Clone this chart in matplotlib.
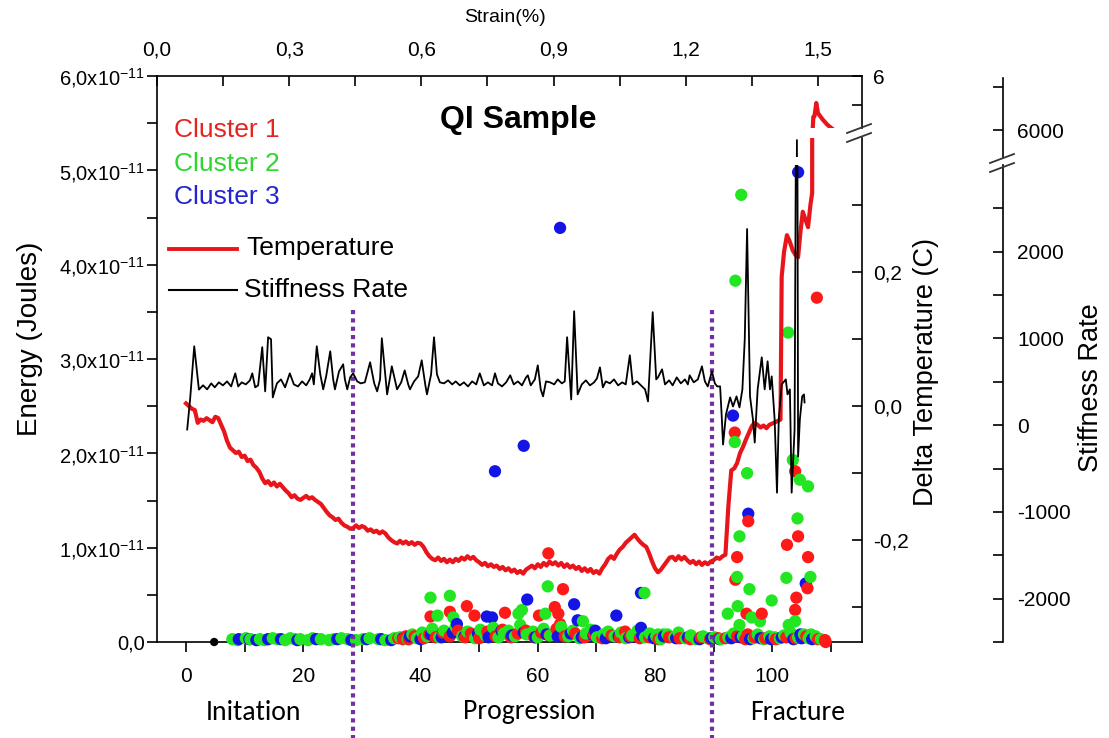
import numpy as np
import matplotlib
matplotlib.use("Agg")
import matplotlib.pyplot as plt
from matplotlib.ticker import FixedLocator, FixedFormatter, MultipleLocator
import matplotlib.transforms as mtrans
from matplotlib.lines import Line2D
from matplotlib import font_manager as fm

# ---------------- data ----------------
# Cluster energies (units of 1e-11 J), (index, energy)
cluster1_pts = [(36.2, 0.04), (37.0, 0.03), (37.5, 0.06), (38.0, 0.03), (39.0, 0.06), (40.6, 0.04), (41.5, 0.08),
                (42.6, 0.05), (43.8, 0.10), (45.0, 0.06), (46.4, 0.12), (47.6, 0.05), (48.6, 0.09), (50.0, 0.04),
                (51.4, 0.11), (52.8, 0.06), (54.0, 0.13), (55.4, 0.05), (56.6, 0.09), (58.0, 0.12), (59.4, 0.05),
                (60.6, 0.10), (62.0, 0.07), (63.2, 0.14), (64.6, 0.06), (66.4, 0.09), (68.0, 0.05), (69.6, 0.08),
                (71.0, 0.04), (72.6, 0.07), (74.0, 0.05), (75.8, 0.06), (77.4, 0.04), (79.0, 0.05), (80.6, 0.03),
                (82.4, 0.05), (84.2, 0.04), (86.0, 0.03), (87.8, 0.05), (89.4, 0.03), (90.8, 0.04),
                (92.0, 0.04), (94.0, 0.06), (95.4, 0.03), (97.0, 0.05), (98.8, 0.04), (100.6, 0.03), (102.4, 0.05),
                (104.0, 0.04), (105.8, 0.06), (107.8, 0.03), (109.0, 0.02),
                (41.7, 0.27), (45.0, 0.32), (47.9, 0.38), (49.2, 0.28), (54.4, 0.31), (60.2, 0.28), (61.8, 0.94),
                (62.9, 0.37), (63.5, 0.30), (63.8, 0.19), (64.3, 0.56), (74.9, 0.11),
                (93.6, 2.22), (95.9, 1.28), (94.0, 0.90), (93.7, 0.66), (103.9, 1.81), (104.4, 1.12), (102.5, 1.03),
                (106.1, 0.90), (106.0, 0.57), (104.1, 0.47), (103.9, 0.34), (95.6, 0.30), (98.2, 0.30), (95.8, 0.08),
                (109.1, 0.00), (107.6, 3.65)]

cluster2_pts = [(7.9, 0.03), (8.8, 0.02), (10.2, 0.04), (11.0, 0.03), (12.6, 0.03), (13.4, 0.02), (14.8, 0.04),
                (15.6, 0.03), (16.9, 0.02), (17.8, 0.04), (18.6, 0.03), (19.5, 0.03), (20.8, 0.02), (21.6, 0.04),
                (23.0, 0.03), (24.4, 0.02), (25.2, 0.03), (26.5, 0.04), (27.6, 0.03), (29.0, 0.02), (30.2, 0.03),
                (31.3, 0.04), (32.8, 0.03), (34.0, 0.02), (35.5, 0.04),
                (36.5, 0.05), (37.8, 0.03), (38.6, 0.08), (39.4, 0.04), (40.3, 0.10), (41.1, 0.06), (42.0, 0.14),
                (43.2, 0.05), (44.0, 0.12), (44.9, 0.08), (46.0, 0.16), (47.1, 0.06), (48.0, 0.11), (49.3, 0.04),
                (50.2, 0.13), (51.1, 0.07), (52.4, 0.15), (53.3, 0.05), (54.2, 0.09), (55.0, 0.12), (56.1, 0.06),
                (57.0, 0.18), (58.1, 0.08), (59.2, 0.11), (60.0, 0.05), (61.0, 0.14), (62.1, 0.07), (63.0, 0.10),
                (64.0, 0.16), (65.2, 0.06), (66.0, 0.12), (67.1, 0.04), (68.2, 0.09), (69.0, 0.13), (70.1, 0.05),
                (71.2, 0.08), (72.0, 0.11), (73.1, 0.06), (74.2, 0.10), (75.0, 0.04), (76.1, 0.07), (77.0, 0.12),
                (78.3, 0.05), (79.1, 0.09), (80.2, 0.06), (81.0, 0.03), (82.1, 0.08), (83.3, 0.05), (84.0, 0.10),
                (85.2, 0.04), (86.1, 0.07), (87.0, 0.03), (88.2, 0.06), (89.0, 0.04), (90.1, 0.05), (91.2, 0.03),
                (92.5, 0.05), (93.4, 0.09), (95.0, 0.06), (96.8, 0.04), (97.5, 0.08), (98.6, 0.03), (99.5, 0.06),
                (100.4, 0.05), (101.3, 0.04), (102.0, 0.07), (103.1, 0.10), (104.4, 0.05), (105.4, 0.08),
                (106.2, 0.04), (107.4, 0.06), (108.3, 0.03),
                (41.7, 0.47), (45.0, 0.49), (42.9, 0.28), (45.6, 0.26), (56.7, 0.30), (57.3, 0.34), (61.3, 0.30),
                (61.7, 0.59), (67.7, 0.22), (78.2, 0.52), (80.5, 0.08), (81.4, 0.08),
                (94.7, 4.74), (93.7, 3.83), (102.7, 3.28), (93.6, 2.12), (95.7, 1.79), (94.4, 1.12), (94.0, 0.69),
                (96.1, 0.56), (99.9, 0.44), (92.4, 0.30), (94.1, 0.38), (97.9, 0.22), (96.5, 0.26), (94.4, 0.18),
                (103.5, 1.93), (104.7, 1.72), (106.1, 1.65), (104.3, 1.31), (102.4, 0.68), (106.5, 0.69),
                (102.8, 0.18), (103.9, 0.22), (106.6, 0.08)]

cluster3_pts = [(9.0, 0.03), (10.8, 0.03), (12.0, 0.02), (14.0, 0.03), (16.2, 0.03), (19.0, 0.02), (22.2, 0.03),
                (25.8, 0.03), (28.2, 0.02), (30.8, 0.03), (33.3, 0.03), (35.0, 0.02),
                (37.0, 0.04), (38.2, 0.06), (40.0, 0.03), (41.8, 0.08), (43.6, 0.05), (45.5, 0.10), (47.5, 0.06),
                (49.8, 0.09), (51.6, 0.05), (53.8, 0.12), (55.6, 0.07), (57.6, 0.10), (59.6, 0.05), (61.5, 0.08),
                (63.4, 0.06), (65.6, 0.09), (67.5, 0.05), (69.5, 0.07), (71.6, 0.04), (73.8, 0.06), (75.6, 0.05),
                (77.8, 0.07), (79.8, 0.04), (81.5, 0.06), (83.6, 0.04), (85.6, 0.05), (87.6, 0.03), (89.6, 0.04),
                (91.0, 0.03), (93.0, 0.04), (94.6, 0.05), (96.2, 0.03), (98.0, 0.04), (99.8, 0.03), (101.6, 0.05),
                (103.6, 0.03), (105.0, 0.04), (106.8, 0.03),
                (63.8, 4.39), (57.6, 2.08), (52.7, 1.81), (46.2, 0.19), (51.3, 0.27), (52.2, 0.26), (58.2, 0.45),
                (66.2, 0.40), (66.8, 0.23), (73.4, 0.28), (77.6, 0.52), (69.8, 0.12), (77.6, 0.15),
                (93.3, 2.40), (95.9, 1.36), (104.4, 4.98), (105.7, 0.62), (104.8, 0.08)]

other_pts = [(4.8, 0.0)]

# Delta temperature (C), regular samples every 0.5 from 0 to 101
temp_regular = [
    0.004, 0.000, -0.004, -0.006, -0.025, -0.020, -0.022, -0.018, -0.021, -0.024,
    -0.016, -0.018, -0.028, -0.038, -0.052, -0.062, -0.066, -0.070, -0.068, -0.076,
    -0.074, -0.082, -0.080, -0.088, -0.092, -0.098, -0.108, -0.115, -0.112, -0.118,
    -0.114, -0.120, -0.116, -0.121, -0.126, -0.130, -0.136, -0.133, -0.138, -0.140,
    -0.137, -0.134, -0.138, -0.136, -0.140, -0.143, -0.146, -0.152, -0.158, -0.163,
    -0.166, -0.170, -0.168, -0.174, -0.178, -0.180, -0.183, -0.182, -0.178, -0.182,
    -0.179, -0.181, -0.186, -0.184, -0.188, -0.186, -0.190, -0.187, -0.190, -0.196,
    -0.200, -0.203, -0.205, -0.201, -0.205, -0.202, -0.206, -0.203, -0.207, -0.204,
    -0.205, -0.210, -0.218, -0.224, -0.228, -0.230, -0.226, -0.231, -0.228, -0.233,
    -0.229, -0.233, -0.228, -0.231, -0.226, -0.229, -0.224, -0.228, -0.225, -0.230,
    -0.233, -0.237, -0.234, -0.239, -0.236, -0.240, -0.238, -0.243, -0.240, -0.245,
    -0.242, -0.247, -0.244, -0.249, -0.246, -0.250, -0.244, -0.241, -0.238, -0.242,
    -0.236, -0.240, -0.234, -0.238, -0.232, -0.236, -0.233, -0.238, -0.234, -0.240,
    -0.236, -0.241, -0.238, -0.243, -0.240, -0.246, -0.242, -0.247, -0.243, -0.249,
    -0.246, -0.250, -0.242, -0.236, -0.228, -0.224, -0.228, -0.220, -0.214, -0.210,
    -0.204, -0.200, -0.196, -0.192, -0.198, -0.203, -0.207, -0.210, -0.220, -0.232,
    -0.242, -0.248, -0.244, -0.238, -0.232, -0.226, -0.225, -0.230, -0.224, -0.229,
    -0.225, -0.230, -0.234, -0.231, -0.236, -0.232, -0.237, -0.233, -0.236, -0.232,
    -0.230, -0.226, -0.228, -0.224, -0.222, -0.150, -0.096, -0.093, -0.085, -0.070,
    -0.061, -0.050, -0.040, -0.030, -0.025, -0.028, -0.032, -0.029, -0.033, -0.028,
    -0.026, -0.024, -0.022]
# fracture part (index, delta T); values above the axis break belong to the upper segment
temp_fracture = [(101.4, -0.020), (101.6, 0.193), (102.0, 0.230), (102.5, 0.255), (103.0, 0.245),
                 (103.5, 0.232), (104.0, 0.225), (104.4, 0.222), (104.8, 0.260), (105.2, 0.290),
                 (105.6, 0.280), (106.1, 0.267), (106.5, 0.300), (106.8, 0.318), (106.9, 4.21),
                 (107.0, 4.59), (107.2, 4.62), (107.5, 5.07), (107.8, 4.72), (108.6, 4.50),
                 (109.4, 4.32), (110.2, 4.19)]

# Stiffness rate (index, value)
stiffness_pts = [
    (0.2, -50), (0.7, 300), (1.4, 910), (1.9, 590), (2.2, 410), (2.9, 460), (3.6, 413), (4.3, 482), (4.9, 436),
    (5.6, 494), (6.3, 459), (7.0, 505), (7.7, 447), (8.4, 598), (8.9, 447), (9.5, 494), (10.2, 470), (10.9, 517),
    (11.3, 598), (11.8, 436), (12.3, 459), (13.0, 900), (13.5, 390), (14.0, 1014), (14.5, 991), (14.8, 320),
    (15.5, 482), (16.2, 528), (16.9, 436), (17.7, 598), (18.4, 470), (19.1, 447), (19.8, 505), (20.5, 459),
    (21.1, 528), (21.5, 598), (21.8, 470), (22.3, 910), (22.9, 586), (23.4, 413), (23.9, 563), (24.6, 852),
    (25.1, 528), (25.4, 413), (26.1, 621), (26.8, 702), (27.1, 528), (27.5, 413), (28.0, 551), (28.5, 598),
    (29.2, 505), (29.8, 482), (30.5, 494), (31.4, 725), (32.1, 482), (32.6, 390), (33.1, 528), (33.4, 1002),
    (33.9, 644), (34.3, 355), (34.8, 551), (35.1, 679), (35.6, 528), (36.0, 413), (36.7, 494), (37.3, 632),
    (37.9, 470), (38.2, 413), (38.9, 505), (39.6, 563), (40.2, 748), (40.8, 470), (41.1, 355), (41.8, 586),
    (42.3, 1014), (42.8, 586), (43.3, 494), (44.0, 482), (44.7, 517), (45.4, 470), (46.0, 505), (46.7, 459),
    (47.4, 494), (48.1, 447), (48.8, 505), (49.5, 470), (50.1, 598), (50.8, 459), (51.5, 494), (52.2, 459),
    (52.7, 598), (53.2, 482), (53.9, 447), (54.6, 494), (55.3, 575), (55.9, 470), (56.6, 505), (57.3, 459),
    (58.0, 551), (58.3, 575), (58.8, 459), (59.5, 528), (60.0, 690), (60.5, 413), (60.9, 332), (61.4, 505),
    (62.1, 494), (62.8, 470), (63.4, 528), (64.1, 482), (64.6, 505), (65.0, 1014), (65.7, 297), (66.2, 1314),
    (66.8, 355), (67.5, 470), (68.2, 517), (68.9, 459), (69.6, 494), (70.1, 540), (70.6, 667), (71.1, 436),
    (71.6, 505), (72.3, 482), (73.0, 528), (73.7, 459), (74.4, 494), (75.0, 470), (75.7, 806), (76.2, 470),
    (76.9, 505), (77.6, 459), (78.3, 413), (78.8, 274), (79.6, 1303), (80.2, 528), (80.5, 551), (81.2, 644),
    (81.7, 470), (82.4, 517), (83.0, 459), (83.7, 551), (84.4, 482), (85.1, 528), (85.6, 470), (85.9, 575),
    (86.6, 494), (87.3, 528), (88.0, 679), (88.5, 505), (89.0, 447), (89.7, 621), (90.2, 482), (90.6, 447),
    (91.1, 447), (91.4, 66), (91.6, -223), (92.1, 124), (92.8, 320), (93.3, 216), (93.9, 332), (94.4, 205),
    (94.9, 413), (95.3, 990), (95.7, 2262), (96.0, 1100), (96.2, 332), (96.7, 66), (97.0, -200), (97.5, 413),
    (98.2, 783), (98.7, 413), (99.2, 737), (99.6, 413), (99.9, 563), (100.4, 66), (100.8, -778), (101.1, 66),
    (101.6, 470), (102.3, 528), (102.6, 355), (103.0, 413), (103.3, -778), (103.8, -50), (104.2, 5884),
    (104.4, -362), (104.7, 66), (105.1, 332), (105.4, 355), (105.5, 262)]

# axis ticks / labels
x_ticks = [0, 20, 40, 60, 80, 100]
strain_ticks = [0.0, 0.3, 0.6, 0.9, 1.2, 1.5]
strain_labels = ["0,0", "0,3", "0,6", "0,9", "1,2", "1,5"]
energy_ticks = [0, 1, 2, 3, 4, 5, 6]
energy_labels = ["0,0"] + [r"%d,0x10$^{-11}$" % v for v in range(1, 7)]
temp_ticks = [-0.2, 0.0, 0.2]
temp_labels = ["-0,2", "0,0", "0,2"]
stiff_ticks = [-2000, -1000, 0, 1000, 2000]
stiff_labels = ["-2000", "-1000", "0", "1000", "2000"]
phase_bounds = [28.4, 89.8]
phase_names = ["Initation", "Progression", "Fracture"]

# ---------------- style ----------------
names = {f.name for f in fm.fontManager.ttflist}
BASE = "Liberation Sans"
NARROW = "Liberation Sans Narrow" if "Liberation Sans Narrow" in names else BASE
REGION = "Carlito" if "Carlito" in names else "Lato"
plt.rcParams["font.family"] = [BASE, "DejaVu Sans"]
plt.rcParams["mathtext.fontset"] = "custom"
plt.rcParams["mathtext.rm"] = BASE
plt.rcParams["mathtext.it"] = BASE
plt.rcParams["mathtext.bf"] = BASE

RED = "#FF1A1A"
GREEN = "#22E622"
BLUE = "#1414E6"
LINE_RED = "#E8161B"
PURPLE = "#7030A0"

W, H = 1109, 738
fig = plt.figure(figsize=(W / 100, H / 100), dpi=100)


def add_ax(x0, y0, x1, y1):
    return fig.add_axes([x0 / W, 1 - y1 / H, (x1 - x0) / W, (y1 - y0) / H])


XLIM = (-4.95, 115.3)
SPW = 1.2

# main energy axes
ax = add_ax(157, 76, 862, 642)
ax.set_xlim(XLIM)
ax.set_ylim(0, 6)
for sp in ["right", "top"]:
    ax.spines[sp].set_visible(False)
for sp in ["left", "bottom"]:
    ax.spines[sp].set_linewidth(SPW)

# all hits drawn in index (time) order so the colours interleave
all_pts = ([(x, e, BLUE) for x, e in cluster3_pts] + [(x, e, RED) for x, e in cluster1_pts]
           + [(x, e, GREEN) for x, e in cluster2_pts])
all_pts.sort(key=lambda p: p[0])
ax.scatter([p[0] for p in all_pts], [p[1] for p in all_pts], s=78, c=[p[2] for p in all_pts],
           edgecolors="none", clip_on=False, zorder=3)
ox, oy = zip(*other_pts)
ax.scatter(ox, oy, s=36, c="black", edgecolors="none", clip_on=False, zorder=3)

ax.xaxis.set_major_locator(FixedLocator(x_ticks))
ax.xaxis.set_minor_locator(MultipleLocator(10))
ax.yaxis.set_major_locator(FixedLocator(energy_ticks))
ax.yaxis.set_major_formatter(FixedFormatter(energy_labels))
ax.yaxis.set_minor_locator(MultipleLocator(0.5))
ax.tick_params(axis="x", which="both", direction="out", length=7, width=SPW)
ax.tick_params(axis="x", which="major", labelsize=15, pad=11, labelfontfamily=NARROW)
ax.tick_params(axis="y", which="both", direction="out", length=7, width=SPW)
ax.tick_params(axis="y", which="major", labelsize=14.5, pad=2)

# top strain axis
axt = ax.twiny()
axt.set_xlim(0, 1.6)
axt.xaxis.set_major_locator(FixedLocator(strain_ticks))
axt.xaxis.set_major_formatter(FixedFormatter(strain_labels))
axt.xaxis.set_minor_locator(MultipleLocator(0.15))
axt.tick_params(axis="x", which="both", direction="in", length=7, width=SPW)
axt.tick_params(axis="x", which="major", labelsize=15, pad=12, labelfontfamily=NARROW)
axt.tick_params(axis="y", which="both", left=False, right=False, labelleft=False, labelright=False)
for sp in ["right", "left", "bottom"]:
    axt.spines[sp].set_visible(False)
axt.spines["top"].set_linewidth(SPW)


def overlay(x0, y0, x1, y1, ylim, spine_pos=None):
    a = add_ax(x0, y0, x1, y1)
    a.patch.set_visible(False)
    a.set_xlim(XLIM)
    a.set_ylim(*ylim)
    for sp in ["left", "top", "bottom"]:
        a.spines[sp].set_visible(False)
    a.spines["right"].set_linewidth(SPW)
    if spine_pos is not None:
        a.spines["right"].set_position(("axes", spine_pos))
    a.set_xticks([])
    a.yaxis.tick_right()
    a.tick_params(axis="y", which="both", direction="in", length=7, width=SPW, labelsize=15)
    return a


temp_x = list(np.linspace(0, 0.5 * (len(temp_regular) - 1), len(temp_regular)))
fx_, fy_ = zip(*temp_fracture)
temp_xall = temp_x + list(fx_)
temp_yall = list(temp_regular) + list(fy_)

axTl = overlay(157, 138, 862, 642, (-0.352, 0.400))
axTh = overlay(157, 76, 862, 128, (4.21, 6.0))
axTl.yaxis.set_major_locator(FixedLocator(temp_ticks))
axTl.yaxis.set_major_formatter(FixedFormatter(temp_labels))
axTl.yaxis.set_minor_locator(FixedLocator([-0.3, -0.1, 0.1, 0.3]))
axTh.yaxis.set_major_locator(FixedLocator([6]))
axTh.yaxis.set_major_formatter(FixedFormatter(["6"]))
axTh.yaxis.set_minor_locator(FixedLocator([5]))
for a in (axTl, axTh):
    a.tick_params(axis="y", which="major", pad=8)

spos = (1003 - 157) / 705
axSl = overlay(157, 165, 862, 642, (-2500, 3000), spos)
axSh = overlay(157, 78, 862, 157, (5689, 6600), spos)
axSl.yaxis.set_major_locator(FixedLocator(stiff_ticks))
axSl.yaxis.set_major_formatter(FixedFormatter(stiff_labels))
axSl.yaxis.set_minor_locator(FixedLocator([-2500, -1500, -500, 500, 1500, 2500]))
axSh.yaxis.set_major_locator(FixedLocator([6000]))
axSh.yaxis.set_major_formatter(FixedFormatter(["6000"]))
axSh.yaxis.set_minor_locator(FixedLocator([6500]))
for a in (axSl, axSh):
    a.tick_params(axis="y", which="major", pad=10)

sx, sy = zip(*stiffness_pts)
for a in (axSl, axSh):
    a.plot(sx, sy, color="black", lw=1.3, zorder=4)
for a in (axTl, axTh):
    a.plot(temp_xall, temp_yall, color=LINE_RED, lw=3.0, zorder=5)

# axis break marks
for (x0, y0, x1, y1) in [(847, 133, 871, 124), (847, 142, 871, 133),
                         (990, 163, 1014, 154), (990, 172, 1014, 163)]:
    fig.add_artist(Line2D([x0 / W, x1 / W], [1 - y0 / H, 1 - y1 / H], color="#333333", lw=1.3,
                          transform=fig.transFigure))

# phase dividers
bt = mtrans.blended_transform_factory(ax.transData, fig.transFigure)
for xb in phase_bounds:
    ax.plot([xb, xb], [1 - 310 / H, 0.0], transform=bt, clip_on=False, color=PURPLE, lw=3,
            linestyle=(0, (1.0, 1.0)), dash_capstyle="butt", zorder=6)

# phase names
for name, xc in zip(phase_names, [253, 529, 798]):
    fig.text(xc / W, 1 - 712 / H, name, ha="center", va="center", fontsize=20, family=REGION)

# axis titles
fig.text(30 / W, 1 - 339 / H, "Energy (Joules)", rotation=90, ha="center", va="center", fontsize=20)
fig.text(926 / W, 1 - 372 / H, "Delta Temperature (C)", rotation=90, ha="center", va="center", fontsize=19.5)
fig.text(1091 / W, 1 - 388 / H, "Stiffness Rate", rotation=90, ha="center", va="center", fontsize=19.5)
fig.text(505 / W, 1 - 18 / H, "Strain(%)", ha="center", va="center", fontsize=14, family=NARROW)
fig.text(518 / W, 1 - 120 / H, "QI Sample", ha="center", va="center", fontsize=23, fontweight="bold")

# legend (manual)
for txt, col, yy in [("Cluster 1", "#E52421", 130), ("Cluster 2", "#2FD62F", 164), ("Cluster 3", "#2424D0", 197)]:
    fig.text(174 / W, 1 - yy / H, txt, color=col, ha="left", va="center", fontsize=19)
fig.add_artist(Line2D([169 / W, 237 / W], [1 - 249 / H, 1 - 249 / H], color=LINE_RED, lw=2.8,
                      transform=fig.transFigure))
fig.add_artist(Line2D([169 / W, 237 / W], [1 - 290 / H, 1 - 290 / H], color="black", lw=1.5,
                      transform=fig.transFigure))
fig.text(246 / W, 1 - 248 / H, "Temperature", ha="left", va="center", fontsize=19)
fig.text(244 / W, 1 - 290 / H, "Stiffness Rate", ha="left", va="center", fontsize=19)

fig.savefig("out.png", dpi=100)
